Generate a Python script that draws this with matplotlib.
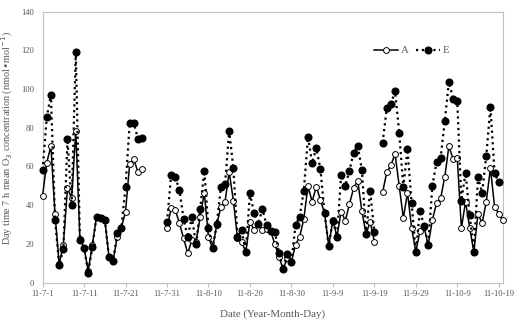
import numpy as np
import pandas as pd
import matplotlib
matplotlib.use("Agg")
import matplotlib.pyplot as plt

plt.rcParams['font.family'] = ['Liberation Serif', 'DejaVu Serif']

nan = np.nan

# daily values from 2011-07-01 to 2011-10-20, nan = no data
dates = pd.date_range('2011-07-01', '2011-10-20', freq='D')

A = [45, 62, 70.5, 35.3, 9.5, 19.5, 48.7, 43.6, 78.4, 22.5,
     18, 6, 19.5, 34, 33.3, 32.5, 13.4, 11.2, 23.8, 28.4,
     36.7, 61.3, 63.7, 57, 58.7, nan, nan, nan, nan, nan,
     28.1, 38.4, 37.5, 30.7, 22.9, 15.2, 22, 21, 33.8, 46.5,
     23.4, 17.8, 29.8, 39.3, 41.8, 57.3, 42.4, 22.9, 21.2, 15.7,
     31.5, 27.2, 30.5, 27.2, 27.5, 26.5, 20, 13.4, 7.1, 12.5,
     10.7, 19.5, 23.8, 32.9, 50, 41.8, 49.6, 42.7, 35.8, 19,
     32.4, 23.8, 36.7, 32, 40.5, 48.8, 52.7, 37, 25, 31.5,
     21.2, nan, 46.7, 57, 60.6, 66.5, 50.1, 33.3, 46.5, 28.1,
     16, 26.5, 28.6, 19.5, 32.4, 41, 43.6, 54.8, 70.6, 63.7,
     64.6, 28.1, 41.8, 28.3, 16, 35.5, 30.7, 41.8, 59.1, 39.3,
     35.5, 32.4]

E = [58.2, 85.4, 97, 32.4, 9.1, 17.2, 74.2, 40.1, 119, 22,
     18, 5.2, 18.6, 34.1, 33.3, 32.5, 13.4, 11.2, 25.5, 28.4,
     49.6, 82.3, 82.3, 74.2, 74.9, nan, nan, nan, nan, nan,
     31.2, 55.6, 54.4, 47.9, 32.9, 23.4, 33.8, 19.8, 38, 57.9,
     28.3, 17.8, 30.2, 49.3, 51, 78.5, 59.1, 23.8, 27.2, 15.7,
     46.2, 35.8, 30.2, 38, 29.8, 26.9, 26.4, 15.5, 7.1, 14.8,
     10.7, 29.8, 34.1, 47.5, 75.4, 61.7, 69.7, 58.6, 35.8, 19,
     32, 23.8, 55.8, 50, 57.7, 67.2, 70.8, 58.2, 25.1, 47.4,
     26, nan, 72.3, 90, 92.1, 99, 77.5, 49.3, 68.9, 41,
     15.9, 37.2, 29.4, 19.5, 50.1, 62.3, 64.6, 83.7, 103.8, 94.9,
     93.7, 42.4, 56.8, 34.8, 15.9, 54.4, 46.5, 65.4, 90.9, 56.5,
     51.9, nan]

tick_dates = pd.date_range('2011-07-01', '2011-10-19', freq='10D')
tick_labels = ['11-7-1', '11-7-11', '11-7-21', '11-7-31', '11-8-10', '11-8-20',
               '11-8-30', '11-9-9', '11-9-19', '11-9-29', '11-10-9', '11-10-19']

fig = plt.figure(figsize=(5.26, 3.23), dpi=100)
ax = fig.add_axes([0.081, 0.125, 0.875, 0.839])

ax.plot(dates, A, color='black', lw=1.1, marker='o', ms=4.2,
        mfc='white', mec='black', mew=0.7, label='A', clip_on=False, zorder=3)
ax.plot(dates, E, color='black', lw=1.6, ls=(0, (1, 1.6)), marker='o', ms=4.8,
        mfc='black', mec='black', label='E', clip_on=False, zorder=4)

ax.set_xlim(dates[0], dates[-1])
ax.set_ylim(0, 140)
ax.set_yticks(range(0, 141, 20))
ax.set_xticks(tick_dates)
ax.set_xticklabels(tick_labels)

gray = '#595959'
for s in ax.spines.values():
    s.set_color('#bfbfbf')
    s.set_linewidth(0.8)
ax.tick_params(axis='x', labelsize=6.2, colors=gray, length=3, color='#bfbfbf', pad=2)
ax.tick_params(axis='y', labelsize=6.2, colors=gray, length=0, pad=6)

ax.set_xlabel('Date (Year-Month-Day)', fontsize=7.8, color=gray)
ax.xaxis.set_label_coords(0.5, -0.1)
ax.set_ylabel('Day time 7 h mean O$_3$ concentration (nmol$\\bullet$mol$^{-1}$)',
              fontsize=7.3, color=gray)
ax.yaxis.set_label_coords(-0.06, 0.535)

ax.legend(loc='upper right', bbox_to_anchor=(0.905, 0.91), ncol=2, frameon=False,
          fontsize=7.8, handlelength=2.2, columnspacing=0.6, handletextpad=0.3,
          labelcolor=gray)

fig.savefig('out.png', dpi=100)
